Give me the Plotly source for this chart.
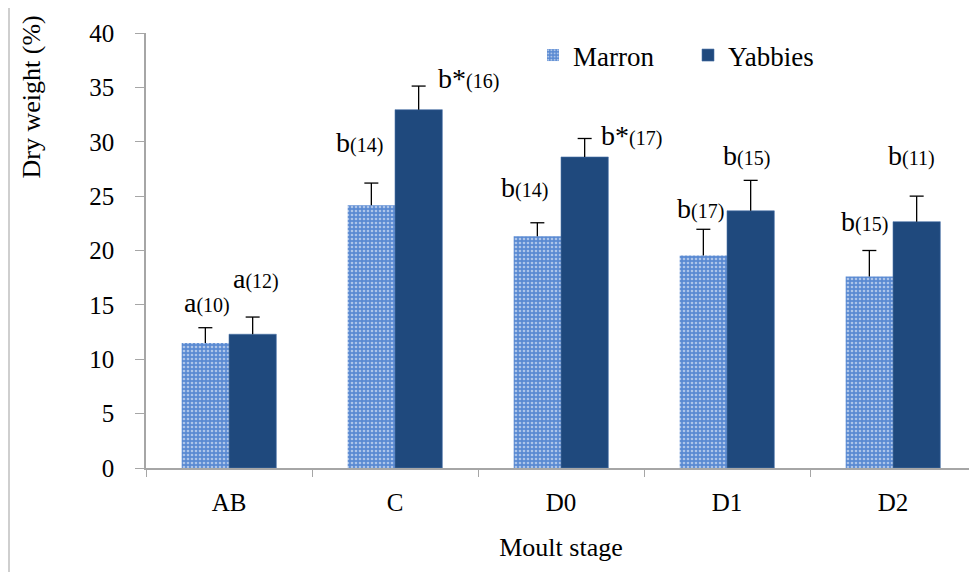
import plotly.graph_objects as go

stages = ["AB", "C", "D0", "D1", "D2"]
marron = [11.5, 24.15, 21.3, 19.55, 17.6]
marron_err = [1.4, 2.05, 1.25, 2.4, 2.4]
yabbies = [12.3, 32.95, 28.6, 23.65, 22.65]
yabbies_err = [1.58, 2.17, 1.7, 2.8, 2.35]

marron_letters = ["a", "b", "b", "b", "b"]
marron_n = [10, 14, 14, 17, 15]
yabbies_letters = ["a", "b*", "b*", "b", "b"]
yabbies_n = [12, 16, 17, 15, 11]

# label anchor heights (data units) and horizontal offsets (px)
marron_label_y = [15.25, 29.9, 25.8, 23.9, 22.7]
marron_label_dx = [-22, -36, -37, -27, -29]
yabbies_label_y = [17.4, 35.8, 30.6, 28.7, 28.7]
yabbies_label_dx = [27, 73, 70, 19, 18]

FONT = "Liberation Serif, Times New Roman, serif"
MARRON_BG = "#5a8ad2"
YABBIES = "#1f497d"
BARGAP = 0.43

# page body has an 8px margin: figure is laid out in screen coordinates minus 8
OFF = 8
W, H = 977 - OFF, 572 - OFF
L, R, T, B = 146 - OFF, 1, 32.5 - OFF, 104.3
plot_w = W - L - R
plot_h = H - T - B


def sx(px):  # screen x -> paper x
    return (px - OFF - L) / plot_w


def sy(py):  # screen y -> paper y
    return (H - B - (py - OFF)) / plot_h


fig = go.Figure()
fig.add_trace(go.Bar(
    name="Marron", x=stages, y=marron,
    marker=dict(color=MARRON_BG,
                pattern=dict(shape=".", fgcolor="white", bgcolor=MARRON_BG,
                             size=4, solidity=0.35, fillmode="overlay"),
                line=dict(width=0)),
))
fig.add_trace(go.Bar(
    name="Yabbies", x=stages, y=yabbies,
    marker=dict(color=YABBIES, line=dict(width=0.6, color="#4a72a8")),
))

# error bars (upper only) on an overlaid numeric axis aligned to the categories
half = (1 - BARGAP) / 4
for vals, errs, sign in ((marron, marron_err, -1), (yabbies, yabbies_err, 1)):
    xs, ys, xt, yt = [], [], [], []
    for i, (v, e) in enumerate(zip(vals, errs)):
        xc = i + sign * half
        xs += [xc, xc, None]
        ys += [v, v + e, None]
        xt.append(xc)
        yt.append(v + e)
    fig.add_trace(go.Scatter(x=xs, y=ys, xaxis="x2", mode="lines",
                             line=dict(color="black", width=1.3),
                             showlegend=False, hoverinfo="skip"))
    fig.add_trace(go.Scatter(x=xt, y=yt, xaxis="x2", mode="markers",
                             marker=dict(symbol="line-ew", size=10,
                                         line=dict(color="black", width=1.3)),
                             showlegend=False, hoverinfo="skip"))

annotations = []
for i, s in enumerate(stages):
    for letters, ns, ys_, dxs in ((marron_letters, marron_n, marron_label_y, marron_label_dx),
                                  (yabbies_letters, yabbies_n, yabbies_label_y, yabbies_label_dx)):
        annotations.append(dict(
            x=s, y=ys_[i], xref="x", yref="y", xshift=dxs[i], showarrow=False,
            text=f"{letters[i]}<span style='font-size:20px'>({ns[i]})</span>",
            font=dict(family=FONT, size=28, color="black"),
            xanchor="center", yanchor="middle"))

annotations.append(dict(
    text="Dry weight (%)", x=sx(31), y=sy(97), xref="paper", yref="paper",
    showarrow=False, textangle=-90, xanchor="center", yanchor="middle",
    font=dict(family=FONT, size=26, color="black")))

fig.update_layout(
    width=W, height=H,
    margin=dict(l=L, r=R, t=T, b=B),
    paper_bgcolor="white", plot_bgcolor="white",
    barmode="group", bargap=BARGAP, bargroupgap=0,
    font=dict(family=FONT, size=25, color="black"),
    showlegend=True,
    legend=dict(orientation="h", x=sx(533), y=sy(55), xanchor="left", yanchor="middle",
                font=dict(family=FONT, size=27, color="black"),
                bgcolor="rgba(0,0,0,0)", itemwidth=30,
                entrywidth=110, entrywidthmode="pixels"),
    xaxis=dict(
        showline=True, linecolor="#a6a6a6", linewidth=1.5,
        ticks="outside", tickson="boundaries", ticklen=7, tickcolor="#a6a6a6",
        tickfont=dict(family=FONT, size=25, color="black"),
        ticklabelstandoff=11,
        title=dict(text="Moult stage", font=dict(family=FONT, size=26, color="black"),
                   standoff=23),
        showgrid=False, zeroline=False,
    ),
    xaxis2=dict(overlaying="x", range=[-0.5, len(stages) - 0.5], visible=False),
    yaxis=dict(
        range=[0, 40], dtick=5, tick0=0,
        showline=True, linecolor="#a6a6a6", linewidth=1.5,
        ticks="outside", ticklen=9, tickcolor="#a6a6a6",
        tickfont=dict(family=FONT, size=25, color="black"),
        showgrid=False, zeroline=False, ticklabelstandoff=16,
    ),
    annotations=annotations,
    shapes=[dict(type="line", xref="paper", yref="paper", x0=sx(9), x1=sx(9),
                 y0=sy(572), y1=sy(0), line=dict(color="#bfbfbf", width=1.5))],
)

fig.write_html("out.html")
